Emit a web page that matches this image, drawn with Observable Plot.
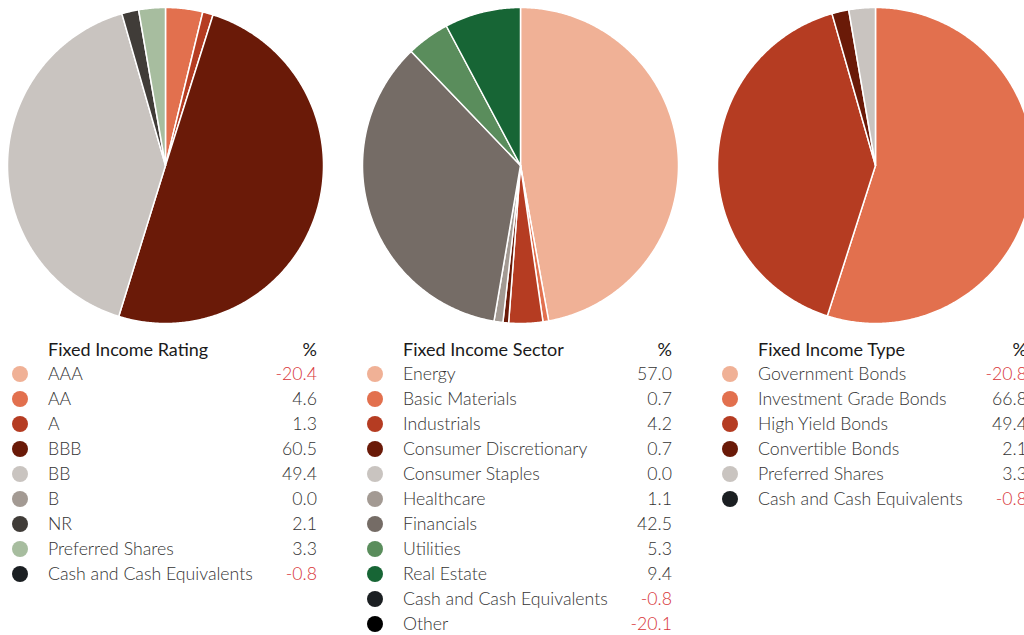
<!DOCTYPE html>
<html>
<head>
<meta charset="utf-8">
<script src="https://cdn.jsdelivr.net/npm/d3@7"></script>
<script src="https://cdn.jsdelivr.net/npm/@observablehq/plot@0.6"></script>
<style>
  html, body { margin: 0; padding: 0; background: #fff; overflow: hidden; width: 1024px; height: 635px; }
  #wrap { display: flex; width: 1065px; font-family: Lato, "Open Sans", sans-serif; }
  .col { width: 355px; flex: 0 0 355px; }
  .col svg { display: block; }
  .legend { margin-top: 6px; margin-left: 12px; width: 305px; display: grid; grid-template-columns: 36px 1fr auto; grid-auto-rows: 25px; align-items: center; font-size: 17.7px; }
  .hdr { color: #1a1a1a; font-weight: 400; font-size: 18px; }
  .lbl { color: #333; font-weight: 300; white-space: nowrap; }
  .val { color: #333; font-weight: 300; text-align: right; }
  .neg { color: #d8363a; }
  .dot { width: 16px; height: 16px; border-radius: 50%; }
</style>
</head>
<body>
<div id="wrap"></div>
<script>
// ---- data ----
const ratingTitle = "Fixed Income Rating";
const ratingLabels = ["AAA", "AA", "A", "BBB", "BB", "B", "NR", "Preferred Shares", "Cash and Cash Equivalents"];
const ratingValues = [-20.4, 4.6, 1.3, 60.5, 49.4, 0.0, 2.1, 3.3, -0.8];
const ratingColors = ["#f0b196", "#e2704e", "#b53c22", "#6a1a08", "#c9c4c0", "#a39a93", "#403c38", "#a7bd9f", "#1b1f22"];

const sectorTitle = "Fixed Income Sector";
const sectorLabels = ["Energy", "Basic Materials", "Industrials", "Consumer Discretionary", "Consumer Staples", "Healthcare", "Financials", "Utilities", "Real Estate", "Cash and Cash Equivalents", "Other"];
const sectorValues = [57.0, 0.7, 4.2, 0.7, 0.0, 1.1, 42.5, 5.3, 9.4, -0.8, -20.1];
const sectorColors = ["#f0b196", "#e2704e", "#b53c22", "#6a1a08", "#c9c4c0", "#a39a93", "#756c66", "#5a8d5c", "#176535", "#1b1f22", "#000000"];

const typeTitle = "Fixed Income Type";
const typeLabels = ["Government Bonds", "Investment Grade Bonds", "High Yield Bonds", "Convertible Bonds", "Preferred Shares", "Cash and Cash Equivalents"];
const typeValues = [-20.8, 66.8, 49.4, 2.1, 3.3, -0.8];
const typeColors = ["#f0b196", "#e2704e", "#b53c22", "#6a1a08", "#c9c4c0", "#1b1f22"];

const charts = [
  {title: ratingTitle, labels: ratingLabels, values: ratingValues, colors: ratingColors},
  {title: sectorTitle, labels: sectorLabels, values: sectorValues, colors: sectorColors},
  {title: typeTitle, labels: typeLabels, values: typeValues, colors: typeColors}
];

function slicePoints(labels, values) {
  const items = labels.map((l, i) => ({label: l, value: Math.max(0, values[i])})).filter(d => d.value > 0);
  const arcs = d3.pie().sort(null).value(d => d.value).startAngle(0).endAngle(2 * Math.PI)(items);
  const pts = [];
  for (const a of arcs) {
    const n = Math.max(2, Math.ceil((a.endAngle - a.startAngle) / (Math.PI / 360)));
    pts.push({label: a.data.label, x: 0, y: 0});
    for (let k = 0; k <= n; k++) {
      const t = a.startAngle + (a.endAngle - a.startAngle) * k / n;
      pts.push({label: a.data.label, x: Math.sin(t), y: Math.cos(t)});
    }
    pts.push({label: a.data.label, x: 0, y: 0});
  }
  return pts;
}

const wrap = document.getElementById("wrap");
for (const c of charts) {
  const col = document.createElement("div");
  col.className = "col";
  const pts = slicePoints(c.labels, c.values);
  const svg = Plot.plot({
    width: 330, height: 330,
    margin: 7,
    x: {domain: [-1, 1], axis: null},
    y: {domain: [-1, 1], axis: null},
    color: {domain: c.labels, range: c.colors, type: "ordinal"},
    marks: [
      Plot.line(pts, {x: "x", y: "y", z: "label", fill: "label", stroke: "white", strokeWidth: 1.5, strokeLinejoin: "round", curve: "linear-closed"})
    ]
  });
  col.appendChild(svg);
  const lg = document.createElement("div");
  lg.className = "legend";
  lg.innerHTML = `<div></div><div class="hdr">${c.title}</div><div class="hdr" style="text-align:right">%</div>` +
    c.labels.map((l, i) => `<div><div class="dot" style="background:${c.colors[i]}"></div></div><div class="lbl">${l}</div><div class="val${c.values[i] < 0 ? " neg" : ""}">${c.values[i].toFixed(1)}</div>`).join("");
  col.appendChild(lg);
  wrap.appendChild(col);
}
</script>
</body>
</html>
